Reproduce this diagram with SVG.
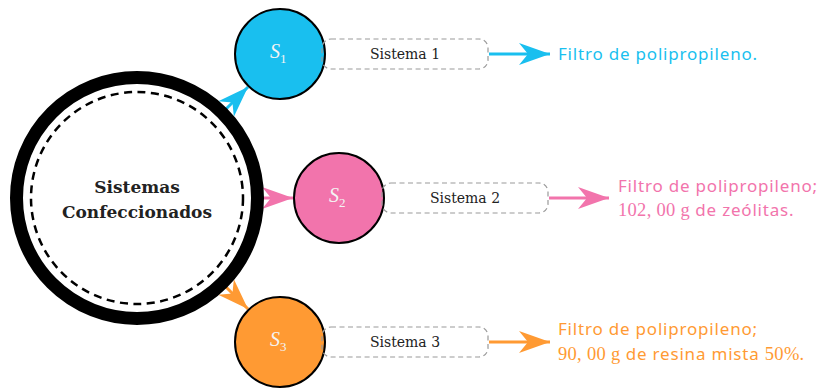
<svg xmlns="http://www.w3.org/2000/svg" width="819" height="388" viewBox="0 0 819 388">
<style>
.sys{fill:none;stroke:#999;stroke-width:1.2;stroke-dasharray:5,3.5}
.node{stroke:#000;stroke-width:2}
.stxt{font-family:"DejaVu Serif",serif;font-size:14px;fill:#222;text-anchor:middle}
.slab{font-family:"Liberation Serif",serif;font-style:italic;font-size:20px;fill:#f4f4f4}
.sub{font-size:13px;font-style:normal}
.lab{font-family:"Noto Sans","Open Sans",sans-serif;font-size:17px;letter-spacing:0.8px}
.num{font-family:"Liberation Serif",serif;font-size:18.5px;letter-spacing:0.3px}
.big{font-family:"DejaVu Serif",serif;font-weight:bold;font-size:17px;fill:#222;text-anchor:middle}
.cy{fill:#19BFEF}.pk{fill:#F274AC}.or{fill:#FF9A33}
</style>
<defs>
<marker id="hc" markerUnits="userSpaceOnUse" viewBox="0 -12 32 24" refX="31" refY="0" markerWidth="32" markerHeight="24" orient="auto"><path d="M0,-11 L31,0 L0,11 L9,0 Z" fill="#19BFEF"/></marker>
<marker id="hp" markerUnits="userSpaceOnUse" viewBox="0 -12 32 24" refX="31" refY="0" markerWidth="32" markerHeight="24" orient="auto"><path d="M0,-11 L31,0 L0,11 L9,0 Z" fill="#F274AC"/></marker>
<marker id="ho" markerUnits="userSpaceOnUse" viewBox="0 -12 32 24" refX="31" refY="0" markerWidth="32" markerHeight="24" orient="auto"><path d="M0,-11 L31,0 L0,11 L9,0 Z" fill="#FF9A33"/></marker>
</defs>
<g id="connectors" fill="none" stroke-width="3">
<line x1="222" y1="113" x2="248" y2="87" stroke="#19BFEF" marker-end="url(#hc)"/>
<line x1="262" y1="198" x2="293" y2="198" stroke="#F274AC" marker-end="url(#hp)"/>
<line x1="222" y1="283" x2="248" y2="309" stroke="#FF9A33" marker-end="url(#ho)"/>
<line x1="489" y1="54" x2="550" y2="54" stroke="#19BFEF" marker-end="url(#hc)"/>
<line x1="549" y1="198" x2="609" y2="198" stroke="#F274AC" marker-end="url(#hp)"/>
<line x1="489" y1="342" x2="550" y2="342" stroke="#FF9A33" marker-end="url(#ho)"/>
</g>
<g id="center">
<circle cx="137" cy="198" r="120.5" fill="#fff" stroke="#000" stroke-width="13"/>
<circle cx="137" cy="198" r="106" fill="none" stroke="#000" stroke-width="2.5" stroke-dasharray="8,5.5"/>
<text class="big" x="137" y="193">Sistemas</text>
<text class="big" x="137" y="218">Confeccionados</text>
</g>
<g id="s1">
<circle class="node" cx="280" cy="54" r="45" fill="#19BFEF"/>
<text class="slab" x="270" y="58">S<tspan class="sub" dy="5">1</tspan></text>
</g>
<g id="s2">
<circle class="node" cx="339" cy="198" r="45" fill="#F274AC"/>
<text class="slab" x="329" y="202">S<tspan class="sub" dy="5">2</tspan></text>
</g>
<g id="s3">
<circle class="node" cx="280" cy="342" r="45" fill="#FF9A33"/>
<text class="slab" x="270" y="346">S<tspan class="sub" dy="5">3</tspan></text>
</g>
<g id="sys1"><rect class="sys" x="322" y="39" width="166" height="30" rx="9"/><text class="stxt" x="405" y="59">Sistema 1</text></g>
<g id="sys2"><rect class="sys" x="382" y="183" width="166" height="30" rx="9"/><text class="stxt" x="465" y="203">Sistema 2</text></g>
<g id="sys3"><rect class="sys" x="322" y="327" width="166" height="30" rx="9"/><text class="stxt" x="405" y="347">Sistema 3</text></g>
<g id="label1"><text class="lab cy" x="558" y="60">Filtro de polipropileno.</text></g>
<g id="label2">
<text class="lab pk" x="618" y="192">Filtro de polipropileno;</text>
<text class="lab pk" x="618" y="216"><tspan class="num">102, 00 g</tspan> de zeólitas.</text>
</g>
<g id="label3">
<text class="lab or" x="558" y="335">Filtro de polipropileno;</text>
<text class="lab or" x="558" y="360"><tspan class="num">90, 00 g</tspan> de resina mista <tspan class="num">50%</tspan>.</text>
</g>
</svg>
